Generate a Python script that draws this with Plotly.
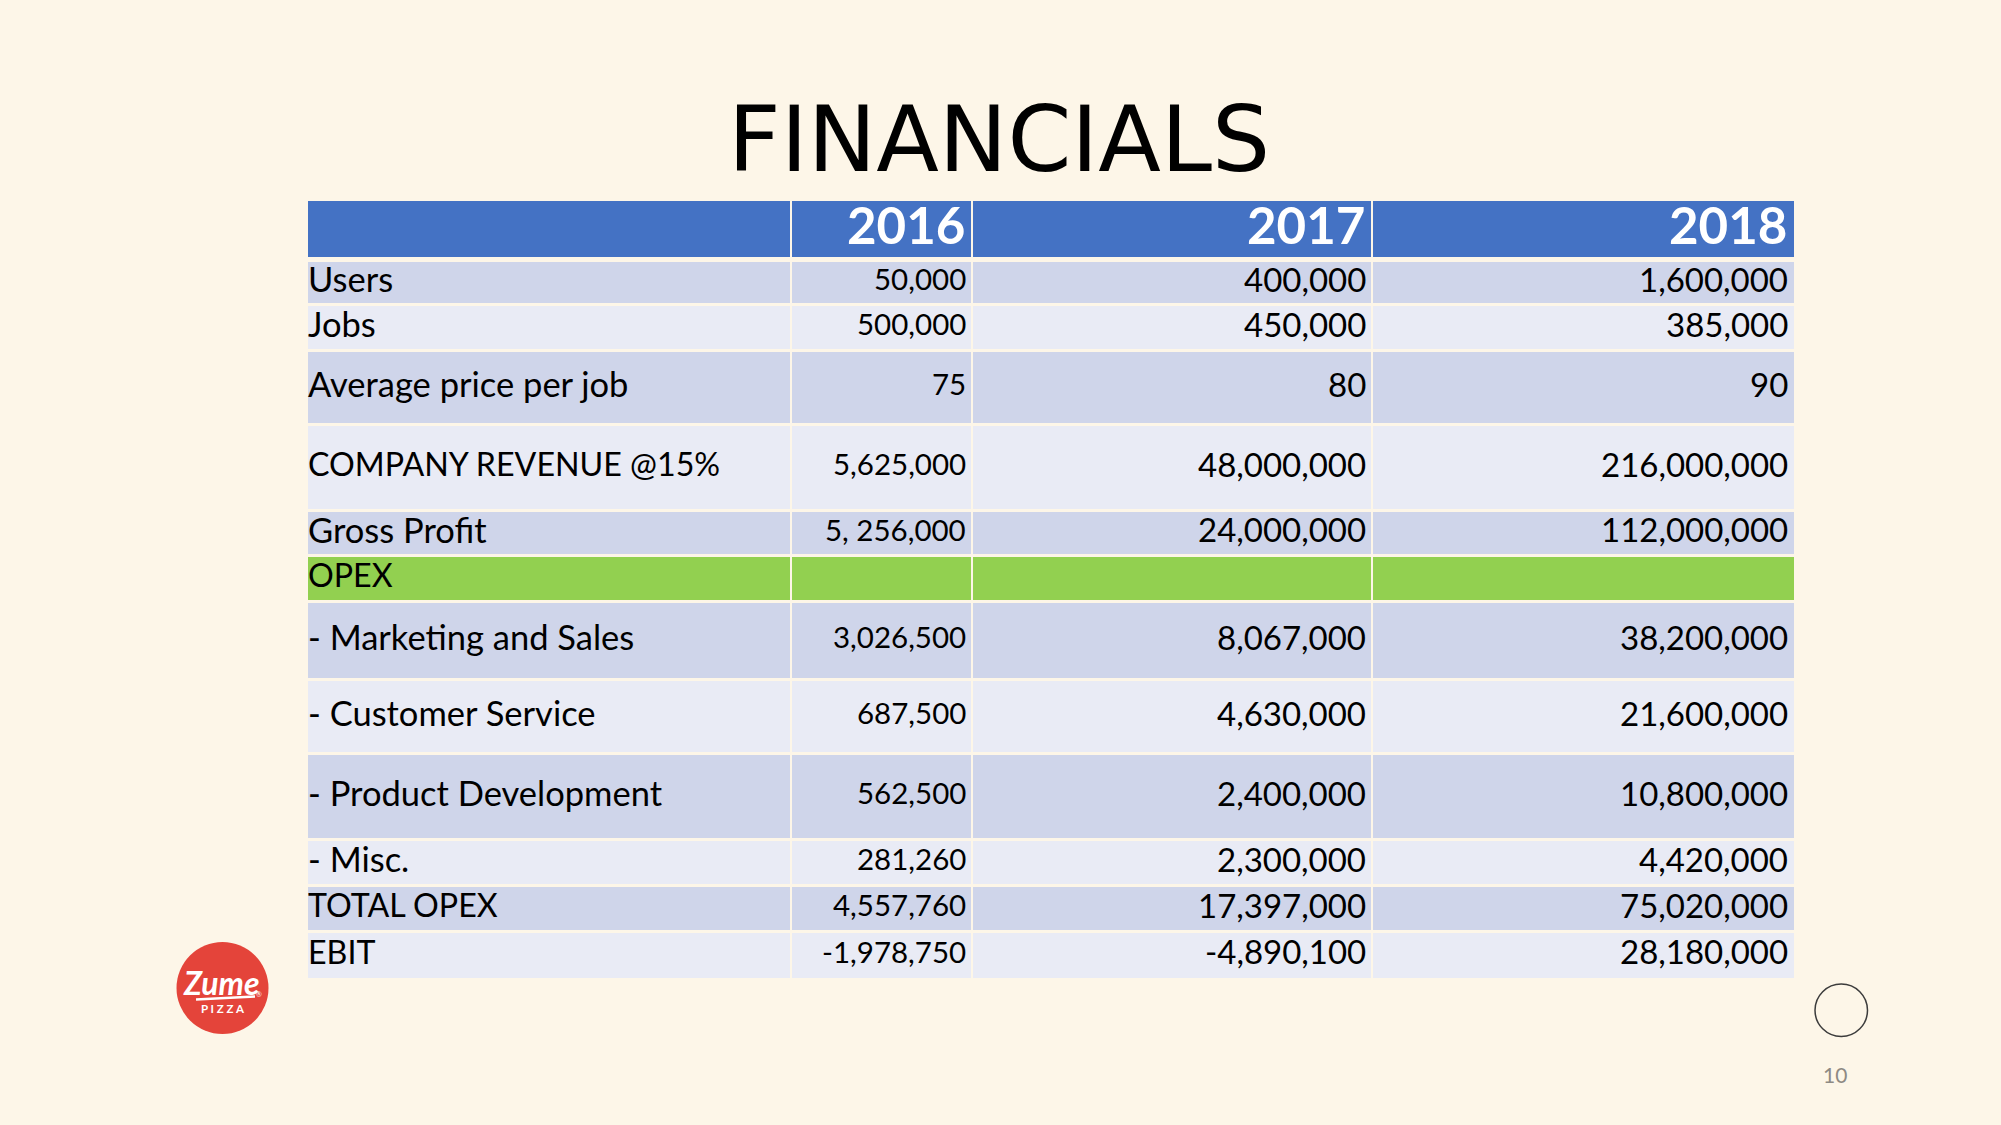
import plotly.graph_objects as go

# ---------------- data ----------------
ROW_LABELS = ["Users", "Jobs", "Average price per job", "COMPANY REVENUE @15%",
              "Gross Profit", "OPEX", "- Marketing and Sales", "- Customer Service",
              "- Product Development", "- Misc.", "TOTAL OPEX", "EBIT"]
YEARS = ["2016", "2017", "2018"]
V2016 = ["50,000", "500,000", "75", "5,625,000", "5, 256,000", "",
         "3,026,500", "687,500", "562,500", "281,260", "4,557,760", "-1,978,750"]
V2017 = ["400,000", "450,000", "80", "48,000,000", "24,000,000", "",
         "8,067,000", "4,630,000", "2,400,000", "2,300,000", "17,397,000", "-4,890,100"]
V2018 = ["1,600,000", "385,000", "90", "216,000,000", "112,000,000", "",
         "38,200,000", "21,600,000", "10,800,000", "4,420,000", "75,020,000", "28,180,000"]
TITLE = "FINANCIALS"
PAGE_NO = "10"

# ---------------- layout / style ----------------
W, H = 2001, 1125
BG = "#FDF6E8"
HEADER_BLUE = "#4472C4"
DARK_ROW = "#CFD5EA"
LIGHT_ROW = "#E9EBF5"
GREEN_ROW = "#92D050"
TABLE_LEFT, TABLE_TOP = 308, 201
COL_WIDTHS = [483, 181, 400, 422]
HEADER_H = 58.5
ROW_HEIGHTS = [45, 46, 74, 86, 45, 46, 78, 74, 86, 46, 46, 46]
GAP = 2.2
HEADER_GAP = 4.5
LABEL_SIZE_MIXED = 34.5
LABEL_SIZE_CAPS = 32.2
COL_SIZES = [29.5, 33, 33]
HEADER_SIZE = 51
FONT = "Lato"

row_fill = []
for i, lab in enumerate(ROW_LABELS):
    if lab == "OPEX":
        row_fill.append(GREEN_ROW)
    else:
        row_fill.append(DARK_ROW if i % 2 == 0 else LIGHT_ROW)

col_edges = [TABLE_LEFT]
for w in COL_WIDTHS:
    col_edges.append(col_edges[-1] + w)
row_edges = [TABLE_TOP, TABLE_TOP + HEADER_H]
for h in ROW_HEIGHTS:
    row_edges.append(row_edges[-1] + h)
n_rows = len(ROW_HEIGHTS) + 1  # including header


def cell_y(r):
    top, bot = row_edges[r], row_edges[r + 1]
    if r == 0:
        bot -= HEADER_GAP / 2
    elif r == 1:
        top += HEADER_GAP / 2
        bot -= GAP / 2
    else:
        top += GAP / 2
        if r < n_rows - 1:
            bot -= GAP / 2
    return top, bot


def cell_x(c):
    x0, x1 = col_edges[c], col_edges[c + 1]
    if c > 0:
        x0 += GAP / 2
    if c < len(COL_WIDTHS) - 1:
        x1 -= GAP / 2
    return x0, x1


fig = go.Figure()

# cell backgrounds as horizontal bars (one trace per column)
fills = [HEADER_BLUE] + row_fill
for c in range(len(COL_WIDTHS)):
    x0, x1 = cell_x(c)
    ys, ws = [], []
    for r in range(n_rows):
        t, b = cell_y(r)
        ys.append((t + b) / 2)
        ws.append(b - t)
    fig.add_trace(go.Bar(
        orientation="h", y=ys, width=ws, base=[x0] * n_rows, x=[x1 - x0] * n_rows,
        marker=dict(color=fills, line=dict(width=0)),
        hoverinfo="skip", showlegend=False))

annotations = []
# header
for j, yr in enumerate(YEARS):
    t, b = cell_y(0)
    annotations.append(dict(
        x=col_edges[j + 2] - 5, y=(t + b) / 2 - 5, xref="x", yref="y",
        text="<b>%s</b>" % yr, showarrow=False, xanchor="right", yanchor="middle",
        font=dict(family=FONT, size=HEADER_SIZE, color="white")))
# body
cols = [V2016, V2017, V2018]
for i, lab in enumerate(ROW_LABELS):
    t, b = cell_y(i + 1)
    yc = (t + b) / 2 - 4
    annotations.append(dict(
        x=TABLE_LEFT - 2, y=yc, xref="x", yref="y", text=lab, showarrow=False,
        xanchor="left", yanchor="middle",
        font=dict(family=FONT, size=LABEL_SIZE_CAPS if lab.isupper() else LABEL_SIZE_MIXED,
                  color="black")))
    for j, col in enumerate(cols):
        if col[i]:
            annotations.append(dict(
                x=col_edges[j + 2] - 4, y=yc, xref="x", yref="y", text=col[i],
                showarrow=False, xanchor="right", yanchor="middle",
                font=dict(family=FONT, size=COL_SIZES[j], color="black")))

# title
annotations.append(dict(x=999, y=139, xref="x", yref="y", text=TITLE, showarrow=False,
                        xanchor="center", yanchor="middle",
                        font=dict(family="DejaVu Sans", size=91.6, color="black")))
# page number
annotations.append(dict(x=1835, y=1074, xref="x", yref="y", text=PAGE_NO, showarrow=False,
                        xanchor="center", yanchor="middle",
                        font=dict(family=FONT, size=21, color="#8E8A84")))
# logo text
annotations.append(dict(x=221, y=982, xref="x", yref="y", text="<b><i>Zume</i></b>",
                        showarrow=False, xanchor="center", yanchor="middle",
                        font=dict(family=FONT, size=32, color="white")))
annotations.append(dict(x=223, y=1008, xref="x", yref="y", text="<b>P I Z Z A</b>",
                        showarrow=False, xanchor="center", yanchor="middle",
                        font=dict(family=FONT, size=11.5, color="white")))
annotations.append(dict(x=259, y=994, xref="x", yref="y", text="®",
                        showarrow=False, xanchor="center", yanchor="middle",
                        font=dict(family=FONT, size=7, color="white")))

shapes = [
    dict(type="circle", xref="x", yref="y", x0=176.5, x1=268.5, y0=942, y1=1034,
         fillcolor="#E4443A", line=dict(width=0), layer="above"),
    dict(type="line", xref="x", yref="y", x0=196, y0=999.5, x1=255, y1=996.5,
         line=dict(color="white", width=2.5), layer="above"),
    dict(type="circle", xref="x", yref="y", x0=1815, x1=1867.5, y0=984, y1=1036.5,
         line=dict(color="#3C3C3C", width=1.5), layer="above"),
]

fig.update_layout(
    width=W, height=H, margin=dict(l=0, r=0, t=0, b=0),
    paper_bgcolor=BG, plot_bgcolor=BG, barmode="overlay", bargap=0,
    xaxis=dict(range=[0, W], visible=False, fixedrange=True),
    yaxis=dict(range=[H, 0], visible=False, fixedrange=True),
    annotations=annotations, shapes=shapes, showlegend=False,
)
fig.write_html("out.html", config={"displayModeBar": False},
               post_script="document.body.style.margin='0px';"
                           "document.body.style.background='%s';" % BG)
